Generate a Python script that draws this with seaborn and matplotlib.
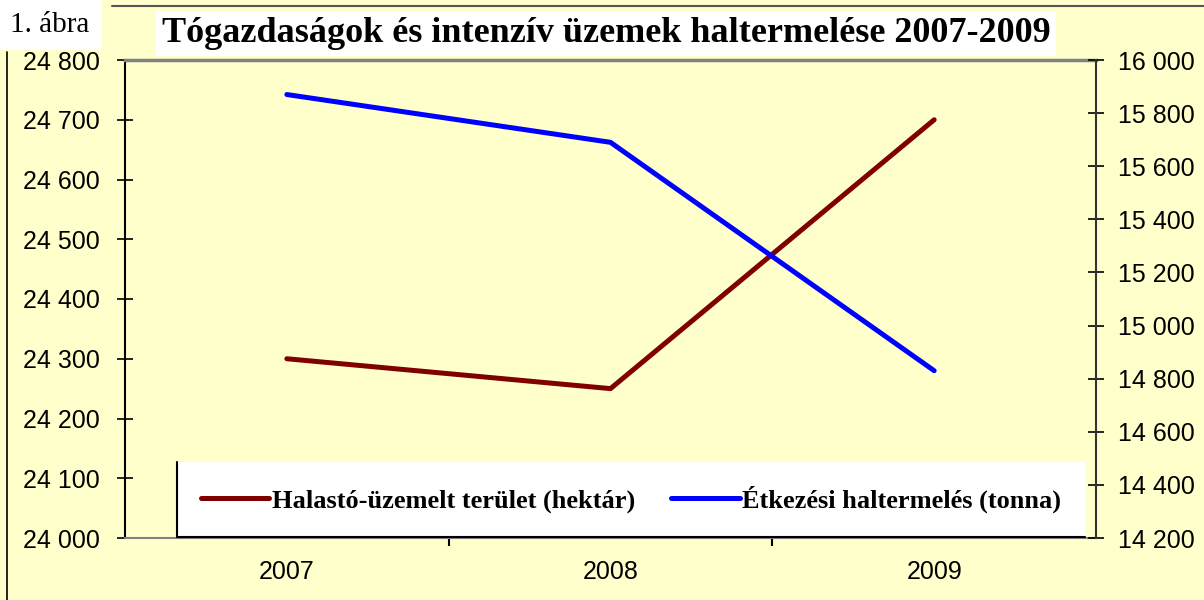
import matplotlib
matplotlib.use("Agg")
import matplotlib.pyplot as plt
from matplotlib.lines import Line2D
from matplotlib.ticker import FuncFormatter, FixedLocator
import seaborn as sns
import pandas as pd

years = ["2007", "2008", "2009"]
terulet = [24300, 24250, 24700]      # hektár, left axis
haltermeles = [15870, 15690, 14830]  # tonna, right axis

label_terulet = "Halastó-üzemelt terület (hektár)"
label_hal = "Étkezési haltermelés (tonna)"
title = "Tógazdaságok és intenzív üzemek haltermelése 2007-2009"

BG = "#FFFFCC"

df = pd.DataFrame({"pos": range(len(years)), "terulet": terulet, "hal": haltermeles})

sns.set_theme(style="white")
plt.rcParams["font.family"] = ["Liberation Sans", "DejaVu Sans"]
plt.rcParams["text.color"] = "black"

fig = plt.figure(figsize=(12.04, 6.0), dpi=100, facecolor=BG)
ax = fig.add_axes([125 / 1204, 62 / 600, 971 / 1204, 478 / 600])
ax.set_facecolor(BG)
ax2 = ax.twinx()

sns.lineplot(data=df, x="pos", y="terulet", ax=ax, color="#800000", linewidth=3.6,
             label=label_terulet, legend=False)
sns.lineplot(data=df, x="pos", y="hal", ax=ax2, color="#0000FF", linewidth=3.6,
             label=label_hal, legend=False)

thousands = FuncFormatter(lambda v, p: f"{int(v):,}".replace(",", " "))

ax.set_xlim(-0.5, len(years) - 0.5)
ax.set_ylim(24000, 24800)
ax.set_yticks(range(24000, 24801, 100))
ax.yaxis.set_major_formatter(thousands)
ax2.set_ylim(14200, 16000)
ax2.set_yticks(range(14200, 16001, 200))
ax2.yaxis.set_major_formatter(thousands)

# category boundaries get tick marks, labels sit at the centres
ax.xaxis.set_major_locator(FixedLocator([0.5, 1.5]))
ax.xaxis.set_minor_locator(FixedLocator(range(len(years))))
ax.set_xticklabels([], minor=False)
ax.set_xticklabels(years, minor=True)
ax.tick_params(axis="x", which="major", direction="out", length=6, width=1.5, color="black", bottom=True)
ax.tick_params(axis="x", which="minor", length=0, pad=16, labelsize=18, labelcolor="black")
ax.set_xlabel("")
ax.set_ylabel("")
ax2.set_ylabel("")

ax.tick_params(axis="y", direction="inout", length=12, width=1.2, color="black",
               labelsize=18, labelcolor="black", pad=12, left=True)
ax2.tick_params(axis="y", direction="inout", length=12, width=1.2, color="black",
                labelsize=18, labelcolor="black", pad=10, right=True)

for a in (ax, ax2):
    a.grid(False)
    for s in a.spines.values():
        s.set_visible(False)
ax.spines["left"].set_visible(True)
ax.spines["left"].set_color("black")
ax.spines["left"].set_linewidth(1.5)
ax.spines["top"].set_visible(True)
ax.spines["top"].set_color("#808080")
ax.spines["top"].set_linewidth(2.5)
ax.spines["bottom"].set_visible(True)
ax.spines["bottom"].set_color("#808080")
ax.spines["bottom"].set_linewidth(1.5)
ax2.spines["right"].set_visible(True)
ax2.spines["right"].set_color("#333333")
ax2.spines["right"].set_linewidth(1.5)

handles = [Line2D([], [], color="#800000", lw=3.6), Line2D([], [], color="#0000FF", lw=3.6)]
leg = ax2.legend(handles, [label_terulet, label_hal], loc="lower left",
                 bbox_to_anchor=(52 / 971, 0.003, 908 / 971, 0.16), mode="expand", ncol=2,
                 prop={"family": ["Liberation Serif"], "weight": "bold", "size": 19},
                 frameon=True, fancybox=False, handlelength=2.6, handletextpad=0.1,
                 borderaxespad=0, columnspacing=0.8, borderpad=0.9)
leg.get_frame().set_facecolor("white")
leg.get_frame().set_edgecolor("none")
leg.get_frame().set_alpha(1)
for t in leg.get_texts():
    t.set_color("black")

fig.text(606 / 1204, 1 - 34 / 600, title, ha="center", va="center", color="black",
         fontfamily=["Liberation Serif"], fontweight="bold", fontsize=26,
         bbox=dict(boxstyle="square,pad=0.15", facecolor="white", edgecolor="none"))
fig.text(10 / 1204, 1 - 25 / 600, "1. ábra", ha="left", va="center", color="black",
         fontfamily=["Liberation Serif"], fontsize=21,
         bbox=dict(boxstyle="square,pad=0.4", facecolor="white", edgecolor="none"))

# page frame lines
fig.add_artist(Line2D([112 / 1204, 1], [1 - 6 / 600, 1 - 6 / 600], color="#555555", lw=1.5))
fig.add_artist(Line2D([7 / 1204, 7 / 1204], [0, 1 - 52 / 600], color="black", lw=1.2))

# legend left/bottom edge
fig.canvas.draw()
bb = leg.get_frame().get_window_extent().transformed(fig.transFigure.inverted())
fig.add_artist(Line2D([bb.x0, bb.x0, bb.x1], [bb.y1, bb.y0, bb.y0], color="black", lw=1.5))

fig.savefig("out.png", dpi=100, facecolor=BG)
